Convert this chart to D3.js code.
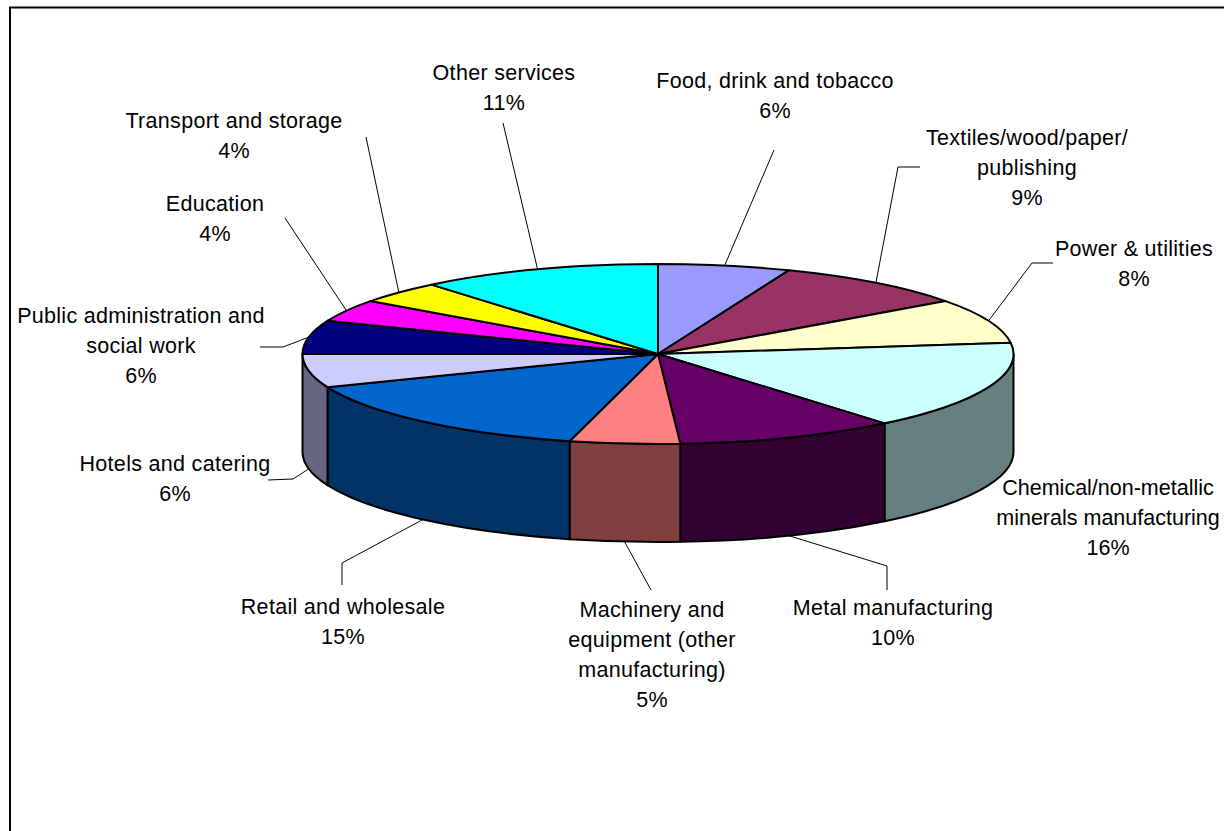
<!DOCTYPE html>
<html>
<head>
<meta charset="utf-8">
<script src="https://cdn.jsdelivr.net/npm/d3@7"></script>
<style>
  html, body { margin: 0; padding: 0; background: #fff; overflow: hidden; }
  svg { display: block; }
  text { font-family: "Liberation Sans", Arial, sans-serif; font-size: 21.5px; letter-spacing: 0.3px; fill: #000; }
  text.tight { letter-spacing: 0; }
</style>
</head>
<body>
<svg id="chart" width="1224" height="831"></svg>
<script>
// Sector names (line breaks where the label wraps)
const categories = [
  "Food, drink and tobacco",
  "Textiles/wood/paper/\npublishing",
  "Power & utilities",
  "Chemical/non-metallic\nminerals manufacturing",
  "Metal manufacturing",
  "Machinery and\nequipment (other\nmanufacturing)",
  "Retail and wholesale",
  "Hotels and catering",
  "Public administration and\nsocial work",
  "Education",
  "Transport and storage",
  "Other services"
];

// Share of each sector, percent
const shares = [6, 9, 8, 16, 10, 5, 15, 6, 6, 4, 4, 11];

// Top-face colours of the slices
const sliceColors = [
  "#9999FF", "#993366", "#FFFFCC", "#CCFFFF", "#660066", "#FF8080",
  "#0066CC", "#CCCCFF", "#000080", "#FF00FF", "#FFFF00", "#00FFFF"
];

// Label placement: text centre x, first-line centre y, leader start and optional elbow
const labelLayout = [
  { x: 775,  y: 80,  start: [774, 150], elbow: null },
  { x: 1027, y: 137, start: [920, 167], elbow: [898, 167] },
  { x: 1134, y: 248, start: [1053, 263], elbow: [1032, 263] },
  { x: 1108, y: 487, start: null, elbow: null, tight: true },
  { x: 893,  y: 607, start: [887, 590], elbow: [887, 566] },
  { x: 652,  y: 609, start: [651, 590], elbow: null },
  { x: 343,  y: 606, start: [342, 585], elbow: [342, 563] },
  { x: 175,  y: 463, start: [268, 480], elbow: [293, 479] },
  { x: 141,  y: 315, start: [260, 347], elbow: [283, 347] },
  { x: 215,  y: 203, start: [285, 218], elbow: null },
  { x: 234,  y: 120, start: [366, 137], elbow: null },
  { x: 504,  y: 72,  start: [503, 123], elbow: null }
];

const svg = d3.select("#chart");

// Chart area frame
svg.append("rect")
  .attr("x", 10).attr("y", 7.5)
  .attr("width", 1400).attr("height", 1000)
  .attr("fill", "#fff")
  .attr("stroke", "#000").attr("stroke-width", 2);

// Tilted pie geometry
const cx = 658, cy = 354, rx = 355.5, ry = 90, depth = 98;

const data = categories.map((c, i) => ({
  name: c, value: shares[i], color: sliceColors[i], layout: labelLayout[i]
}));

const arcs = d3.pie().sort(null).value(d => d.value)
  .startAngle(0).endAngle(2 * Math.PI)(data);

const pt = (a, dy = 0) => [cx + rx * Math.sin(a), cy - ry * Math.cos(a) + dy];
const f = p => p[0].toFixed(2) + "," + p[1].toFixed(2);

const sideColor = c => {
  const r = d3.rgb(c);
  return d3.rgb(r.r / 2, r.g / 2, r.b / 2).formatHex();
};

const g = svg.append("g");

// Outer walls (only the front half is visible)
const frontStart = Math.PI / 2, frontEnd = 3 * Math.PI / 2;
arcs.forEach(a => {
  const a0 = Math.max(a.startAngle, frontStart);
  const a1 = Math.min(a.endAngle, frontEnd);
  if (a1 <= a0) return;
  const p0 = pt(a0), p1 = pt(a1), b1 = pt(a1, depth), b0 = pt(a0, depth);
  const path = `M${f(p0)} A${rx},${ry} 0 0 1 ${f(p1)} L${f(b1)} A${rx},${ry} 0 0 0 ${f(b0)} Z`;
  g.append("path")
    .attr("d", path)
    .attr("fill", sideColor(a.data.color))
    .attr("stroke", "#000").attr("stroke-width", 2)
    .attr("stroke-linejoin", "round");
});

// Top faces
arcs.forEach(a => {
  const p0 = pt(a.startAngle), p1 = pt(a.endAngle);
  const large = (a.endAngle - a.startAngle) > Math.PI ? 1 : 0;
  const path = `M${cx},${cy} L${f(p0)} A${rx},${ry} 0 ${large} 1 ${f(p1)} Z`;
  g.append("path")
    .attr("d", path)
    .attr("fill", a.data.color)
    .attr("stroke", "#000").attr("stroke-width", 2)
    .attr("stroke-linejoin", "round");
});

// Leader lines from labels to the slice edge
arcs.forEach(a => {
  const L = a.data.layout;
  if (!L.start) return;
  const mid = (a.startAngle + a.endAngle) / 2;
  const front = Math.cos(mid) < 0;
  const end = pt(mid, front ? depth : 0);
  const pts = [L.start];
  if (L.elbow) pts.push(L.elbow);
  pts.push(end);
  svg.append("path")
    .attr("d", d3.line()(pts))
    .attr("fill", "none")
    .attr("stroke", "#000").attr("stroke-width", 1);
});

// Labels: name lines followed by the percentage
const lineGap = 30;
arcs.forEach(a => {
  const L = a.data.layout;
  const lines = a.data.name.split("\n").concat([a.data.value + "%"]);
  const t = svg.append("text")
    .attr("text-anchor", "middle")
    .classed("tight", !!L.tight);
  lines.forEach((s, i) => {
    t.append("tspan")
      .attr("x", L.x)
      .attr("y", L.y + i * lineGap + 7.5)
      .text(s);
  });
});
</script>
</body>
</html>
